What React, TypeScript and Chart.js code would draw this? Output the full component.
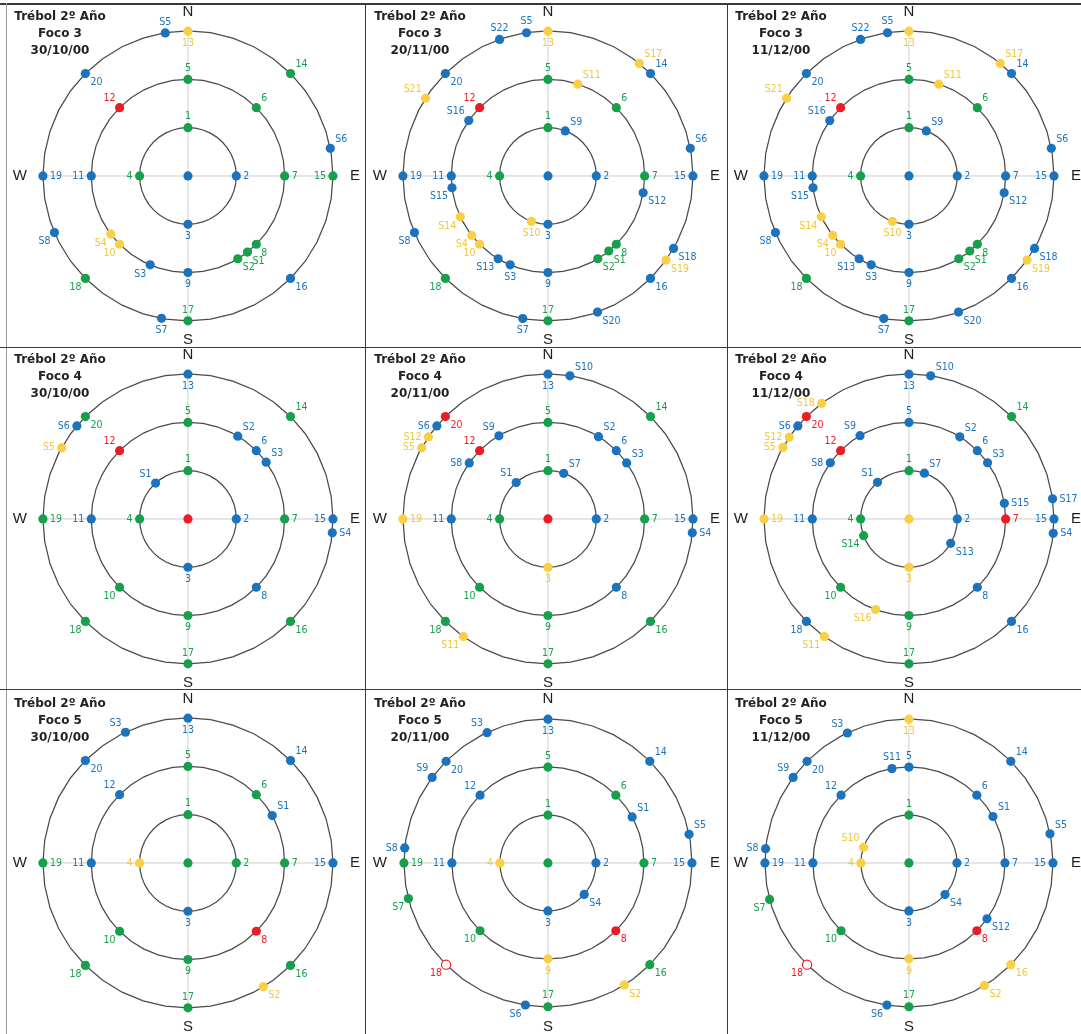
import { useEffect, useRef } from 'react';
import { Chart, registerables } from 'chart.js';

Chart.register(...registerables);

// Fixed grid stations: 0 = centre, 1-4 inner ring, 5-12 middle ring, 13-20 outer ring.
// Bearings are compass degrees (0 = N, clockwise).
const STATION_RING = [0, 1, 1, 1, 1, 2, 2, 2, 2, 2, 2, 2, 2, 3, 3, 3, 3, 3, 3, 3, 3];
const STATION_BEARING = [0, 0, 90, 180, 270, 0, 45, 90, 135, 180, 225, 270, 315, 0, 45, 90, 135, 180, 225, 270, 315];
const STATION_LABEL_POS = ['', 't', 'r', 'b', 'l', 't', 'tr', 'r', 'br', 'b', 'bl', 'l', 'tl', 'b', 'tr', 'l', 'br', 't', 'bl', 'r', 'br'];

// Status codes: B blue, G green, Y yellow, R red, O open red ring
type Sample = [string, number, number, string]; // name, ring, bearing, status

// ---- Foco 3 ----
const F3_301000_TITLE = ['Trébol 2º Año', 'Foco 3', '30/10/00'];
const F3_301000_STATIONS = ['B', 'G', 'B', 'B', 'G', 'G', 'G', 'G', 'G', 'B', 'Y', 'B', 'R', 'Y', 'G', 'G', 'B', 'G', 'G', 'B', 'B'];
const F3_301000_SAMPLES: Sample[] = [
  ['S1', 2, 142, 'G'], ['S2', 2, 149, 'G'], ['S3', 2, 203, 'B'], ['S4', 2, 233, 'Y'],
  ['S5', 3, 351, 'B'], ['S6', 3, 79, 'B'], ['S7', 3, 190.5, 'B'], ['S8', 3, 247, 'B'],
];
const F3_301000_SAMPLE_POS = ['br', 'br', 'bl', 'bl', 't', 'tr', 'b', 'bl'];

const F3_201100_TITLE = ['Trébol 2º Año', 'Foco 3', '20/11/00'];
const F3_201100_STATIONS = ['B', 'G', 'B', 'B', 'G', 'G', 'G', 'G', 'G', 'B', 'Y', 'B', 'R', 'Y', 'B', 'B', 'B', 'G', 'G', 'B', 'B'];
const F3_201100_SAMPLES: Sample[] = [
  ['S1', 2, 141, 'G'], ['S2', 2, 149, 'G'], ['S3', 2, 203, 'B'], ['S4', 2, 232, 'Y'],
  ['S5', 3, 351.5, 'B'], ['S6', 3, 79, 'B'], ['S7', 3, 190, 'B'], ['S8', 3, 247, 'B'],
  ['S9', 1, 21, 'B'], ['S10', 1, 200, 'Y'], ['S11', 2, 18, 'Y'], ['S12', 2, 100, 'B'],
  ['S13', 2, 211, 'B'], ['S14', 2, 245, 'Y'], ['S15', 2, 263, 'B'], ['S16', 2, 305, 'B'],
  ['S17', 3, 39, 'Y'], ['S18', 3, 120, 'B'], ['S19', 3, 125.5, 'Y'], ['S20', 3, 160, 'B'],
  ['S21', 3, 302.5, 'Y'], ['S22', 3, 340.5, 'B'],
];
const F3_201100_SAMPLE_POS = ['br', 'br', 'b', 'bl', 't', 'tr', 'b', 'bl', 'tr', 'b', 'tr', 'br', 'bl', 'bl', 'bl', 'tl', 'tr', 'br', 'br', 'br', 'tl', 't'];

const F3_111200_TITLE = ['Trébol 2º Año', 'Foco 3', '11/12/00'];
const F3_111200_STATIONS = ['B', 'G', 'B', 'B', 'G', 'G', 'G', 'B', 'G', 'B', 'Y', 'B', 'R', 'Y', 'B', 'B', 'B', 'G', 'G', 'B', 'B'];
const F3_111200_SAMPLES: Sample[] = [
  ['S1', 2, 141, 'G'], ['S2', 2, 149, 'G'], ['S3', 2, 203, 'B'], ['S4', 2, 232, 'Y'],
  ['S5', 3, 351.5, 'B'], ['S6', 3, 79, 'B'], ['S7', 3, 190, 'B'], ['S8', 3, 247, 'B'],
  ['S9', 1, 21, 'B'], ['S10', 1, 200, 'Y'], ['S11', 2, 18, 'Y'], ['S12', 2, 100, 'B'],
  ['S13', 2, 211, 'B'], ['S14', 2, 245, 'Y'], ['S15', 2, 263, 'B'], ['S16', 2, 305, 'B'],
  ['S17', 3, 39, 'Y'], ['S18', 3, 120, 'B'], ['S19', 3, 125.5, 'Y'], ['S20', 3, 160, 'B'],
  ['S21', 3, 302.5, 'Y'], ['S22', 3, 340.5, 'B'],
];
const F3_111200_SAMPLE_POS = ['br', 'br', 'b', 'bl', 't', 'tr', 'b', 'bl', 'tr', 'b', 'tr', 'br', 'bl', 'bl', 'bl', 'tl', 'tr', 'br', 'br', 'br', 'tl', 't'];

// ---- Foco 4 ----
const F4_301000_TITLE = ['Trébol 2º Año', 'Foco 4', '30/10/00'];
const F4_301000_STATIONS = ['R', 'G', 'B', 'B', 'G', 'G', 'B', 'G', 'B', 'G', 'G', 'B', 'R', 'B', 'G', 'B', 'G', 'G', 'G', 'G', 'G'];
const F4_301000_SAMPLES: Sample[] = [
  ['S1', 1, 318, 'B'], ['S2', 2, 31, 'B'], ['S3', 2, 54, 'B'],
  ['S4', 3, 95.5, 'B'], ['S5', 3, 299.5, 'Y'], ['S6', 3, 310, 'B'],
];
const F4_301000_SAMPLE_POS = ['tl', 'tr', 'tr', 'r', 'l', 'l'];

const F4_201100_TITLE = ['Trébol 2º Año', 'Foco 4', '20/11/00'];
const F4_201100_STATIONS = ['R', 'G', 'B', 'Y', 'G', 'G', 'B', 'G', 'B', 'G', 'G', 'B', 'R', 'B', 'G', 'B', 'G', 'G', 'G', 'Y', 'R'];
const F4_201100_SAMPLES: Sample[] = [
  ['S1', 1, 319, 'B'], ['S2', 2, 31.5, 'B'], ['S3', 2, 54.5, 'B'], ['S4', 3, 95.5, 'B'],
  ['S5', 3, 299.5, 'Y'], ['S6', 3, 310, 'B'], ['S7', 1, 19, 'B'], ['S8', 2, 305.5, 'B'],
  ['S9', 2, 329.5, 'B'], ['S10', 3, 8.7, 'B'], ['S11', 3, 215.7, 'Y'], ['S12', 3, 304.5, 'Y'],
];
const F4_201100_SAMPLE_POS = ['tl', 'tr', 'tr', 'r', 'l', 'l', 'tr', 'l', 'tl', 'tr', 'bl', 'l'];

const F4_111200_TITLE = ['Trébol 2º Año', 'Foco 4', '11/12/00'];
const F4_111200_STATIONS = ['Y', 'G', 'B', 'Y', 'G', 'B', 'B', 'R', 'B', 'G', 'G', 'B', 'R', 'B', 'G', 'B', 'B', 'G', 'B', 'Y', 'R'];
const F4_111200_SAMPLES: Sample[] = [
  ['S1', 1, 319.4, 'B'], ['S2', 2, 31.7, 'B'], ['S3', 2, 54.4, 'B'], ['S4', 3, 95.7, 'B'],
  ['S5', 3, 299.6, 'Y'], ['S6', 3, 310, 'B'], ['S7', 1, 18.6, 'B'], ['S8', 2, 305.6, 'B'],
  ['S9', 2, 329.6, 'B'], ['S10', 3, 8.6, 'B'], ['S11', 3, 215.7, 'Y'], ['S12', 3, 304.4, 'Y'],
  ['S13', 1, 120.3, 'B'], ['S14', 1, 249.7, 'G'], ['S15', 2, 80.7, 'B'], ['S16', 2, 200.2, 'Y'],
  ['S17', 3, 82, 'B'], ['S18', 3, 323, 'Y'],
];
const F4_111200_SAMPLE_POS = ['tl', 'tr', 'tr', 'r', 'l', 'l', 'tr', 'l', 'tl', 'tr', 'bl', 'l', 'br', 'bl', 'r', 'bl', 'r', 'l'];

// ---- Foco 5 ----
const F5_301000_TITLE = ['Trébol 2º Año', 'Foco 5', '30/10/00'];
const F5_301000_STATIONS = ['G', 'G', 'G', 'B', 'Y', 'G', 'G', 'G', 'R', 'G', 'G', 'B', 'B', 'B', 'B', 'B', 'G', 'G', 'G', 'G', 'B'];
const F5_301000_SAMPLES: Sample[] = [
  ['S1', 2, 60.6, 'B'], ['S2', 3, 148.7, 'Y'], ['S3', 3, 334.5, 'B'],
];
const F5_301000_SAMPLE_POS = ['tr', 'br', 'tl'];

const F5_201100_TITLE = ['Trébol 2º Año', 'Foco 5', '20/11/00'];
const F5_201100_STATIONS = ['G', 'G', 'B', 'B', 'Y', 'G', 'G', 'G', 'R', 'Y', 'G', 'B', 'B', 'B', 'B', 'B', 'G', 'G', 'O', 'G', 'B'];
const F5_201100_SAMPLES: Sample[] = [
  ['S1', 2, 61.3, 'B'], ['S2', 3, 148, 'Y'], ['S3', 3, 335, 'B'], ['S4', 1, 131, 'B'],
  ['S5', 3, 78.5, 'B'], ['S6', 3, 189, 'B'], ['S7', 3, 255.7, 'G'], ['S8', 3, 276, 'B'],
  ['S9', 3, 306.5, 'B'],
];
const F5_201100_SAMPLE_POS = ['tr', 'br', 'tl', 'br', 'tr', 'bl', 'bl', 'l', 'tl'];

const F5_111200_TITLE = ['Trébol 2º Año', 'Foco 5', '11/12/00'];
const F5_111200_STATIONS = ['G', 'G', 'B', 'B', 'Y', 'B', 'B', 'B', 'R', 'Y', 'G', 'B', 'B', 'Y', 'B', 'B', 'Y', 'G', 'O', 'B', 'B'];
const F5_111200_SAMPLES: Sample[] = [
  ['S1', 2, 61, 'B'], ['S2', 3, 148.4, 'Y'], ['S3', 3, 334.7, 'B'], ['S4', 1, 131.3, 'B'],
  ['S5', 3, 78.3, 'B'], ['S6', 3, 188.8, 'B'], ['S7', 3, 255.3, 'G'], ['S8', 3, 275.7, 'B'],
  ['S9', 3, 306.5, 'B'], ['S10', 1, 289.2, 'Y'], ['S11', 2, 349.8, 'B'], ['S12', 2, 125.6, 'B'],
];
const F5_111200_SAMPLE_POS = ['tr', 'br', 'tl', 'br', 'tr', 'bl', 'bl', 'l', 'tl', 'tl', 't', 'br'];

// ---- styling ----
const DOT_COLORS: Record<string, string> = { B: '#1b73bd', G: '#17a04b', Y: '#fbcf45', R: '#ec1c24', O: '#ffffff' };
const TEXT_COLORS: Record<string, string> = { B: '#1b73bd', G: '#17a04b', Y: '#f2c63c', R: '#ec1c24', O: '#ec1c24' };
const LABEL_OFFSETS: Record<string, [CanvasTextAlign, number, number]> = {
  t: ['center', 0, -11], b: ['center', 0, 12], l: ['right', -7, 0], r: ['left', 7, 0],
  tl: ['right', -4, -9], tr: ['left', 5, -9], bl: ['right', -4, 9], br: ['left', 5, 9],
};

const UNIT = 49.6; // pixels per ring
const CANVAS_W = 362;
const CANVAS_H = 344;
const CX = 183;
const CY = 173;
const COL_LEFT = [5, 365, 726];
const ROW_TOP = [3, 346, 690];

interface PanelSpec {
  title: string[];
  stations: string[];
  samples: Sample[];
  samplePos: string[];
  col: number;
  row: number;
}

const PANELS: PanelSpec[] = [
  { title: F3_301000_TITLE, stations: F3_301000_STATIONS, samples: F3_301000_SAMPLES, samplePos: F3_301000_SAMPLE_POS, col: 0, row: 0 },
  { title: F3_201100_TITLE, stations: F3_201100_STATIONS, samples: F3_201100_SAMPLES, samplePos: F3_201100_SAMPLE_POS, col: 1, row: 0 },
  { title: F3_111200_TITLE, stations: F3_111200_STATIONS, samples: F3_111200_SAMPLES, samplePos: F3_111200_SAMPLE_POS, col: 2, row: 0 },
  { title: F4_301000_TITLE, stations: F4_301000_STATIONS, samples: F4_301000_SAMPLES, samplePos: F4_301000_SAMPLE_POS, col: 0, row: 1 },
  { title: F4_201100_TITLE, stations: F4_201100_STATIONS, samples: F4_201100_SAMPLES, samplePos: F4_201100_SAMPLE_POS, col: 1, row: 1 },
  { title: F4_111200_TITLE, stations: F4_111200_STATIONS, samples: F4_111200_SAMPLES, samplePos: F4_111200_SAMPLE_POS, col: 2, row: 1 },
  { title: F5_301000_TITLE, stations: F5_301000_STATIONS, samples: F5_301000_SAMPLES, samplePos: F5_301000_SAMPLE_POS, col: 0, row: 2 },
  { title: F5_201100_TITLE, stations: F5_201100_STATIONS, samples: F5_201100_SAMPLES, samplePos: F5_201100_SAMPLE_POS, col: 1, row: 2 },
  { title: F5_111200_TITLE, stations: F5_111200_STATIONS, samples: F5_111200_SAMPLES, samplePos: F5_111200_SAMPLE_POS, col: 2, row: 2 },
];

function toXY(ring: number, bearing: number) {
  const a = (bearing * Math.PI) / 180;
  return { x: ring * Math.sin(a), y: ring * Math.cos(a) };
}

function makeDecor(names: string[], statuses: string[], positions: string[], title: string[]) {
  return {
    id: 'compassDecor',
    beforeDatasetsDraw(chart: Chart) {
      const { ctx } = chart;
      const xs = chart.scales.x;
      const ys = chart.scales.y;
      const px = xs.getPixelForValue(0);
      const py = ys.getPixelForValue(0);
      const outer = xs.getPixelForValue(3) - px;
      ctx.save();
      // cross hairs
      ctx.strokeStyle = '#cdcdcd';
      ctx.lineWidth = 1;
      ctx.beginPath();
      ctx.moveTo(px - outer, py);
      ctx.lineTo(px + outer, py);
      ctx.moveTo(px, py - outer);
      ctx.lineTo(px, py + outer);
      ctx.stroke();
      // rings
      ctx.strokeStyle = '#4a4a4a';
      ctx.lineWidth = 1.25;
      const sides = 40;
      for (const r of [1, 2, 3]) {
        const rad = xs.getPixelForValue(r) - px;
        ctx.beginPath();
        for (let k = 0; k <= sides; k++) {
          const a = (k / sides) * Math.PI * 2;
          const x = px + rad * Math.sin(a);
          const y = py - rad * Math.cos(a);
          if (k === 0) ctx.moveTo(x, y);
          else ctx.lineTo(x, y);
        }
        ctx.closePath();
        ctx.stroke();
      }
      ctx.restore();
    },
    afterDatasetsDraw(chart: Chart) {
      const { ctx } = chart;
      const meta = chart.getDatasetMeta(0);
      const px = chart.scales.x.getPixelForValue(0);
      const py = chart.scales.y.getPixelForValue(0);
      ctx.save();
      ctx.font = '10.5px "Liberation Sans Narrow", "DejaVu Sans Condensed", sans-serif';
      ctx.textBaseline = 'middle';
      meta.data.forEach((el: any, i: number) => {
        const name = names[i];
        if (!name) return;
        const [align, dx, dy] = LABEL_OFFSETS[positions[i]] || LABEL_OFFSETS.r;
        ctx.textAlign = align;
        ctx.fillStyle = TEXT_COLORS[statuses[i]];
        ctx.fillText(name, el.x + dx, el.y + dy);
      });
      // cardinal points
      ctx.font = '15px "Liberation Sans", Arial, sans-serif';
      ctx.fillStyle = '#1e1e1e';
      ctx.textAlign = 'center';
      ctx.fillText('N', px, py - 164);
      ctx.fillText('S', px, py + 164);
      ctx.fillText('W', px - 168, py);
      ctx.fillText('E', px + 167, py);
      // panel heading
      ctx.font = 'bold 12px "DejaVu Sans", Verdana, sans-serif';
      ctx.fillStyle = '#222222';
      title.forEach((line, k) => ctx.fillText(line, 55, 13.5 + k * 17));
      ctx.restore();
    },
  };
}

function CompassPanel({ panel }: { panel: PanelSpec }) {
  const ref = useRef<HTMLCanvasElement>(null);
  useEffect(() => {
    if (!ref.current) return;
    const names = [...STATION_RING.map((_, i) => (i === 0 ? '' : String(i))), ...panel.samples.map((s) => s[0])];
    const statuses = [...panel.stations, ...panel.samples.map((s) => s[3])];
    const positions = [...STATION_LABEL_POS, ...panel.samplePos];
    const points = [
      ...STATION_RING.map((r, i) => toXY(r, STATION_BEARING[i])),
      ...panel.samples.map((s) => toXY(s[1], s[2])),
    ];
    const chart = new Chart(ref.current, {
      type: 'scatter',
      data: {
        datasets: [
          {
            data: points,
            pointRadius: 4.6,
            pointHoverRadius: 4.6,
            pointBackgroundColor: statuses.map((s) => DOT_COLORS[s]),
            pointBorderColor: statuses.map((s) => (s === 'O' ? '#ec1c24' : DOT_COLORS[s])),
            pointBorderWidth: statuses.map((s) => (s === 'O' ? 1.2 : 0)),
            clip: false as any,
          },
        ],
      },
      options: {
        animation: false,
        responsive: false,
        maintainAspectRatio: false,
        layout: { padding: 0 },
        events: [],
        scales: {
          x: { type: 'linear', display: false, min: -CX / UNIT, max: (CANVAS_W - CX) / UNIT },
          y: { type: 'linear', display: false, min: -(CANVAS_H - CY) / UNIT, max: CY / UNIT },
        },
        plugins: { legend: { display: false }, tooltip: { enabled: false }, title: { display: false } },
      },
      plugins: [makeDecor(names, statuses, positions, panel.title)],
    });
    return () => chart.destroy();
  }, [panel]);
  return (
    <canvas
      ref={ref}
      width={CANVAS_W}
      height={CANVAS_H}
      style={{
        position: 'absolute',
        left: COL_LEFT[panel.col],
        top: ROW_TOP[panel.row],
        width: CANVAS_W,
        height: CANVAS_H,
      }}
    />
  );
}

export default function App() {
  const line = (style: React.CSSProperties) => <div style={{ position: 'absolute', background: '#3a3a3a', ...style }} />;
  return (
    <div
      style={{
        position: 'absolute',
        left: 0,
        top: 0,
        width: 1081,
        height: 1034,
        overflow: 'hidden',
        background: '#ffffff',
      }}
    >
      {line({ left: 0, top: 3, width: 1081, height: 1.5 })}
      {line({ left: 6, top: 3, width: 1, height: 1031, background: '#9a9a9a' })}
      {line({ left: 365, top: 3, width: 1, height: 1031 })}
      {line({ left: 727, top: 3, width: 1, height: 1031 })}
      {line({ left: 0, top: 347, width: 1081, height: 1 })}
      {line({ left: 0, top: 689, width: 1081, height: 1 })}
      {PANELS.map((p, i) => (
        <CompassPanel key={i} panel={p} />
      ))}
    </div>
  );
}
